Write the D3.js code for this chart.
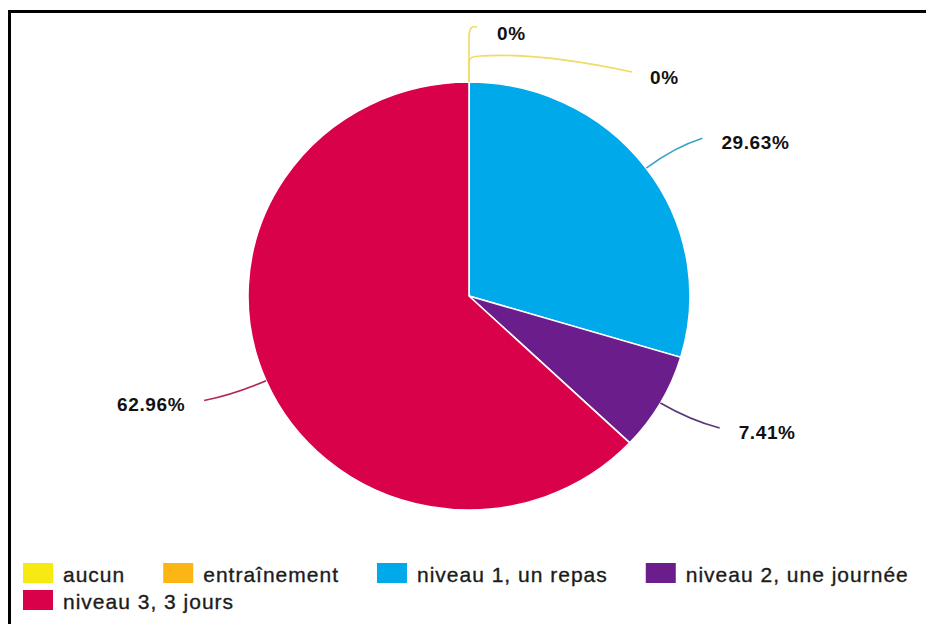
<!DOCTYPE html>
<html>
<head>
<meta charset="utf-8">
<script src="https://cdn.jsdelivr.net/npm/d3@7"></script>
<style>
  html, body { margin: 0; padding: 0; background: #fff; overflow: hidden; }
  svg { display: block; }
  text { font-family: "Liberation Sans", Arial, Helvetica, sans-serif; }
</style>
</head>
<body>
<svg id="chart"></svg>
<script>
// données
var categories = ["aucun", "entraînement", "niveau 1, un repas", "niveau 2, une journée", "niveau 3, 3 jours"];
var values = [0, 0, 29.63, 7.41, 62.96];
var labels = ["0%", "0%", "29.63%", "7.41%", "62.96%"];
var colors = ["#f6ea12", "#fbb616", "#00a9ea", "#6a1d8b", "#d9024a"];
var lineColors = ["#efdc62", "#efdc62", "#3ba3c2", "#5a3577", "#b3245c"];

var width = 926, height = 624;
var cx = 469, cy = 296, rx = 221, ry = 214;

var svg = d3.select("#chart")
    .attr("width", width)
    .attr("height", height);

// cadre noir : seulement haut et gauche (image coupée)
svg.append("path")
    .attr("d", `M9.5,${height} V11.5 H${width}`)
    .attr("fill", "none")
    .attr("stroke", "#000")
    .attr("stroke-width", 3);

var data = categories.map((c, i) => ({ name: c, value: values[i], label: labels[i], color: colors[i], line: lineColors[i] }));

var pie = d3.pie().sort(null).value(d => d.value);
var arcs = pie(data);

var arc = d3.arc().innerRadius(0).outerRadius(rx);

// camembert (légèrement écrasé verticalement)
var g = svg.append("g")
    .attr("transform", `translate(${cx}, ${cy}) scale(1, ${ry / rx})`);

g.selectAll("path")
    .data(arcs.filter(a => a.value > 0))
    .enter().append("path")
    .attr("d", arc)
    .attr("fill", d => d.data.color)
    .attr("stroke", "#fff")
    .attr("stroke-width", 1.6);

// point sur l'ellipse à l'angle a, avec un décalage radial
function pt(a, extra) {
    return [cx + (rx + extra) * Math.sin(a), cy - (ry + extra) * Math.cos(a)];
}

var labelsG = svg.append("g");

// repères pour les tranches nulles (empilées au sommet)
var zeroLayout = [
    { up: [44, 52], end: [8, 55], labelDx: 20, labelDy: 6 },
    { up: [20, 26], end: [163, 10], labelDx: 18, labelDy: 5 }
];
var zeroIndex = 0;

arcs.forEach(function(a) {
    var mid = (a.startAngle + a.endAngle) / 2;
    var p0 = pt(mid, 0);
    var path, tx, ty, anchor;

    if (a.value === 0) {
        var z = zeroLayout[zeroIndex++];
        var pUp = [p0[0], p0[1] - z.up[0]];
        var pCtrl = [p0[0], p0[1] - z.up[1]];
        var pEnd = [p0[0] + z.end[0], p0[1] - z.end[1]];
        path = d3.path();
        path.moveTo(p0[0], p0[1]);
        path.lineTo(pUp[0], pUp[1]);
        if (z.end[0] < 20) {
            path.quadraticCurveTo(pCtrl[0], pCtrl[1] - 6, pEnd[0], pEnd[1]);
        } else {
            var pKnee = [p0[0] + 11, pCtrl[1]];
            path.quadraticCurveTo(pCtrl[0], pCtrl[1], pKnee[0], pKnee[1]);
            path.quadraticCurveTo(p0[0] + 70, pCtrl[1] - 4, pEnd[0], pEnd[1]);
        }
        tx = pEnd[0] + z.labelDx;
        ty = pEnd[1] + z.labelDy;
        anchor = "start";
    } else {
        var side = Math.sin(mid) >= 0 ? 1 : -1;
        var pC = pt(mid, 35);
        var pR = pt(mid, 50);
        var pEnd2 = [pR[0] + 16 * side, pR[1]];
        path = d3.path();
        path.moveTo(p0[0], p0[1]);
        path.quadraticCurveTo(pC[0], pC[1], pEnd2[0], pEnd2[1]);
        tx = pEnd2[0] + 19 * side;
        ty = pEnd2[1] + 4;
        anchor = side > 0 ? "start" : "end";
    }

    labelsG.append("path")
        .attr("d", path.toString())
        .attr("fill", "none")
        .attr("stroke", a.data.line)
        .attr("stroke-width", 1.6);

    labelsG.append("text")
        .attr("x", tx)
        .attr("y", ty)
        .attr("text-anchor", anchor)
        .attr("dominant-baseline", "central")
        .attr("font-size", 19)
        .attr("font-weight", "bold")
        .attr("letter-spacing", 0.6)
        .attr("fill", "#111")
        .text(a.data.label);
});

// légende
var legend = svg.append("g");
var lx = 23, ly = 563, rowH = 27, swW = 30, swH = 20, gapText = 10, gapItem = 38, maxX = 920;
var curX = lx, curY = ly;

data.forEach(function(d) {
    var item = legend.append("g");
    var t = item.append("text")
        .attr("x", swW + gapText)
        .attr("y", 19)
        .attr("font-size", 21)
        .attr("letter-spacing", 1)
        .attr("fill", "#1c1c1c")
        .attr("stroke", "#1c1c1c")
        .attr("stroke-width", 0.35)
        .text(d.name);
    var w = swW + gapText + t.node().getComputedTextLength();
    if (curX + w > maxX && curX > lx) {
        curX = lx;
        curY += rowH;
    }
    item.attr("transform", `translate(${curX}, ${curY})`);
    item.insert("rect", "text")
        .attr("width", swW)
        .attr("height", swH)
        .attr("fill", d.color);
    curX += w + gapItem;
});
</script>
</body>
</html>
